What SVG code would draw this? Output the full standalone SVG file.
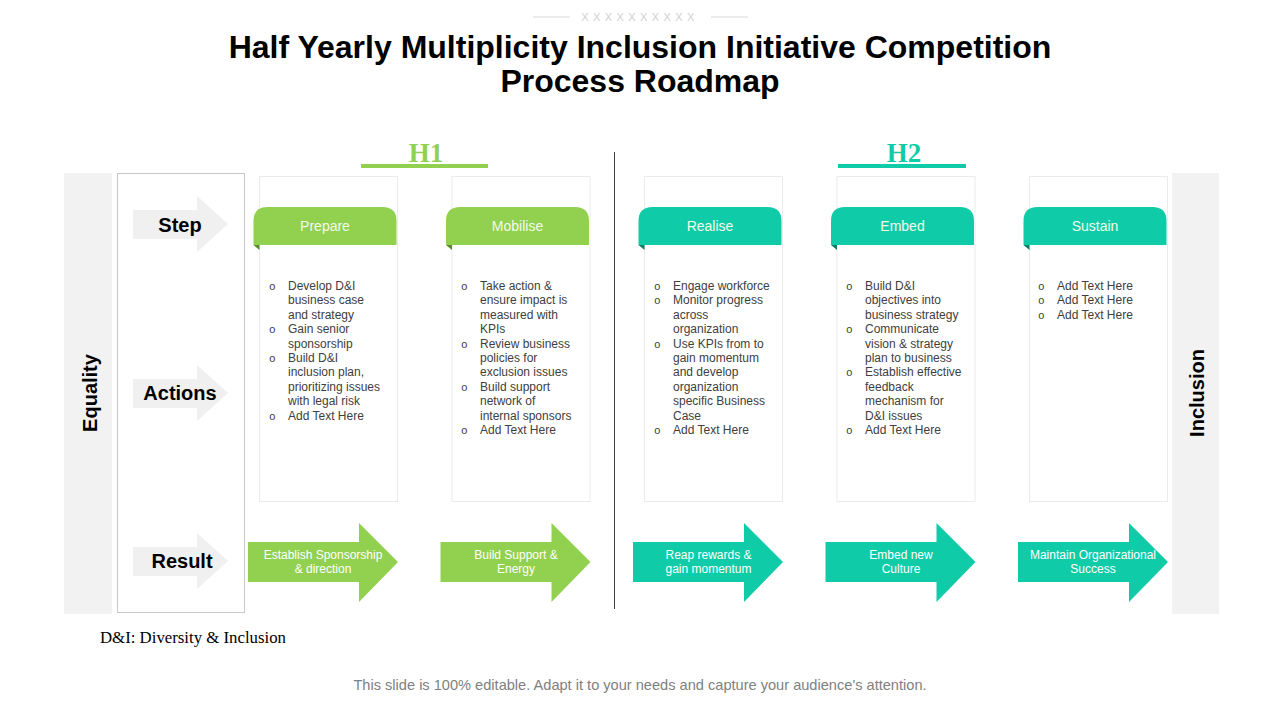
<svg xmlns="http://www.w3.org/2000/svg" width="1280" height="720" viewBox="0 0 1280 720">
<style>
.title{font-family:"Liberation Sans",Arial,sans-serif;font-weight:bold;font-size:32px;fill:#000;text-anchor:middle}
.half{font-family:"Liberation Serif","Times New Roman",serif;font-weight:bold;font-size:27px;text-anchor:middle}
.band{fill:#F2F2F2}
.side{font-family:"Liberation Sans",Arial,sans-serif;font-weight:bold;font-size:20px;fill:#000;text-anchor:middle}
.lbl{font-family:"Liberation Sans",Arial,sans-serif;font-weight:bold;font-size:20px;fill:#000;text-anchor:middle}
.garrow{fill:#F0F0F0}
.card{fill:#FFFFFF;stroke:#EBEBEB;stroke-width:1}
.tabg{fill:#92D050}
.tabt{fill:#10CBA8}
.foldg{fill:#5A8A2E}
.foldt{fill:#0A7E69}
.tabtxt{font-family:"Liberation Sans",Arial,sans-serif;font-size:14px;fill:#F2FBEA;text-anchor:middle}
.body{font-family:"Liberation Sans",Arial,sans-serif;font-size:12px;fill:#404040}
.bul{font-family:"Liberation Mono","Courier New",monospace;font-size:11px;fill:#404040}
.rtxt{font-family:"Liberation Sans",Arial,sans-serif;font-size:12px;fill:#FFFFFF;text-anchor:middle}
</style>

<g id="header">
  <line x1="533" y1="17" x2="570" y2="17" stroke="#D9D9D9" stroke-width="1"/>
  <line x1="711" y1="17" x2="748" y2="17" stroke="#D9D9D9" stroke-width="1"/>
  <text x="640" y="21" font-family="Liberation Sans,Arial,sans-serif" font-size="11" fill="#D0D0D0" text-anchor="middle" letter-spacing="4.4">XXXXXXXXXX</text>
  <text class="title" x="640" y="58">Half Yearly Multiplicity Inclusion Initiative Competition</text>
  <text class="title" x="640" y="92">Process Roadmap</text>
</g>

<g id="h1">
  <text class="half" x="426" y="162" fill="#92D050">H1</text>
  <rect x="361" y="164" width="127" height="4" fill="#92D050"/>
</g>
<g id="h2">
  <text class="half" x="904" y="162" fill="#10CBA8">H2</text>
  <rect x="838" y="164" width="128" height="4" fill="#10CBA8"/>
</g>

<g id="divider">
  <line x1="614.5" y1="152" x2="614.5" y2="609" stroke="#404040" stroke-width="1"/>
</g>

<g id="equality">
  <rect class="band" x="64" y="173" width="48" height="441"/>
  <text class="side" transform="translate(90,393) rotate(-90)" x="0" y="7">Equality</text>
</g>
<g id="inclusion">
  <rect class="band" x="1172" y="173" width="47" height="441"/>
  <text class="side" transform="translate(1197,393) rotate(-90)" x="0" y="7">Inclusion</text>
</g>

<g id="labels">
  <rect x="117.5" y="173.5" width="127" height="439" fill="#FFFFFF" stroke="#C8C8C8" stroke-width="1"/>
  <g id="step">
    <polygon class="garrow" points="133,210 197,210 197,196 228,224 197,252 197,239 133,239"/>
    <text class="lbl" x="180" y="232">Step</text>
  </g>
  <g id="actions">
    <polygon class="garrow" points="133,379 197,379 197,365 228,393 197,421 197,408 133,408"/>
    <text class="lbl" x="180" y="400">Actions</text>
  </g>
  <g id="result">
    <polygon class="garrow" points="133,547 197,547 197,533 228,561 197,589 197,576 133,576"/>
    <text class="lbl" x="182" y="568">Result</text>
  </g>
</g>

<g id="card-prepare">
  <rect class="card" x="259.5" y="176.5" width="138" height="325"/>
  <path class="tabg" d="M253.5,245 V221 Q253.5,207 267.5,207 H382.5 Q396.5,207 396.5,221 V245 Z"/>
  <polygon class="foldg" points="253.5,245 259.5,245 259.5,250"/>
  <text class="tabtxt" x="325" y="231">Prepare</text>
  <text class="bul"><tspan x="269" y="290">o</tspan><tspan x="269" y="333.2">o</tspan><tspan x="269" y="362">o</tspan><tspan x="269" y="419.6">o</tspan></text>
  <text class="body"><tspan x="288" y="290">Develop D&amp;I</tspan><tspan x="288" dy="14.4">business case</tspan><tspan x="288" dy="14.4">and strategy</tspan><tspan x="288" dy="14.4">Gain senior</tspan><tspan x="288" dy="14.4">sponsorship</tspan><tspan x="288" dy="14.4">Build D&amp;I</tspan><tspan x="288" dy="14.4">inclusion plan,</tspan><tspan x="288" dy="14.4">prioritizing issues</tspan><tspan x="288" dy="14.4">with legal risk</tspan><tspan x="288" dy="14.4">Add Text Here</tspan></text>
</g>

<g id="card-mobilise">
  <rect class="card" x="452" y="176.5" width="138" height="325"/>
  <path class="tabg" d="M446,245 V221 Q446,207 460,207 H575 Q589,207 589,221 V245 Z"/>
  <polygon class="foldg" points="446,245 452,245 452,250"/>
  <text class="tabtxt" x="517.5" y="231">Mobilise</text>
  <text class="bul"><tspan x="461" y="290">o</tspan><tspan x="461" y="347.6">o</tspan><tspan x="461" y="390.8">o</tspan><tspan x="461" y="434">o</tspan></text>
  <text class="body"><tspan x="480" y="290">Take action &amp;</tspan><tspan x="480" dy="14.4">ensure impact is</tspan><tspan x="480" dy="14.4">measured with</tspan><tspan x="480" dy="14.4">KPIs</tspan><tspan x="480" dy="14.4">Review business</tspan><tspan x="480" dy="14.4">policies for</tspan><tspan x="480" dy="14.4">exclusion issues</tspan><tspan x="480" dy="14.4">Build support</tspan><tspan x="480" dy="14.4">network of</tspan><tspan x="480" dy="14.4">internal sponsors</tspan><tspan x="480" dy="14.4">Add Text Here</tspan></text>
</g>

<g id="card-realise">
  <rect class="card" x="644.5" y="176.5" width="138" height="325"/>
  <path class="tabt" d="M638.5,245 V221 Q638.5,207 652.5,207 H767.5 Q781.5,207 781.5,221 V245 Z"/>
  <polygon class="foldt" points="638.5,245 644.5,245 644.5,250"/>
  <text class="tabtxt" x="710" y="231">Realise</text>
  <text class="bul"><tspan x="654" y="290">o</tspan><tspan x="654" y="304.4">o</tspan><tspan x="654" y="347.6">o</tspan><tspan x="654" y="434">o</tspan></text>
  <text class="body"><tspan x="673" y="290">Engage workforce</tspan><tspan x="673" dy="14.4">Monitor progress</tspan><tspan x="673" dy="14.4">across</tspan><tspan x="673" dy="14.4">organization</tspan><tspan x="673" dy="14.4">Use KPIs from to</tspan><tspan x="673" dy="14.4">gain momentum</tspan><tspan x="673" dy="14.4">and develop</tspan><tspan x="673" dy="14.4">organization</tspan><tspan x="673" dy="14.4">specific Business</tspan><tspan x="673" dy="14.4">Case</tspan><tspan x="673" dy="14.4">Add Text Here</tspan></text>
</g>

<g id="card-embed">
  <rect class="card" x="837" y="176.5" width="138" height="325"/>
  <path class="tabt" d="M831,245 V221 Q831,207 845,207 H960 Q974,207 974,221 V245 Z"/>
  <polygon class="foldt" points="831,245 837,245 837,250"/>
  <text class="tabtxt" x="902.5" y="231">Embed</text>
  <text class="bul"><tspan x="846" y="290">o</tspan><tspan x="846" y="333.2">o</tspan><tspan x="846" y="376.4">o</tspan><tspan x="846" y="434">o</tspan></text>
  <text class="body"><tspan x="865" y="290">Build D&amp;I</tspan><tspan x="865" dy="14.4">objectives into</tspan><tspan x="865" dy="14.4">business strategy</tspan><tspan x="865" dy="14.4">Communicate</tspan><tspan x="865" dy="14.4">vision &amp; strategy</tspan><tspan x="865" dy="14.4">plan to business</tspan><tspan x="865" dy="14.4">Establish effective</tspan><tspan x="865" dy="14.4">feedback</tspan><tspan x="865" dy="14.4">mechanism for</tspan><tspan x="865" dy="14.4">D&amp;I issues</tspan><tspan x="865" dy="14.4">Add Text Here</tspan></text>
</g>

<g id="card-sustain">
  <rect class="card" x="1029.5" y="176.5" width="138" height="325"/>
  <path class="tabt" d="M1023.5,245 V221 Q1023.5,207 1037.5,207 H1152.5 Q1166.5,207 1166.5,221 V245 Z"/>
  <polygon class="foldt" points="1023.5,245 1029.5,245 1029.5,250"/>
  <text class="tabtxt" x="1095" y="231">Sustain</text>
  <text class="bul"><tspan x="1038" y="290">o</tspan><tspan x="1038" y="304.4">o</tspan><tspan x="1038" y="318.8">o</tspan></text>
  <text class="body"><tspan x="1057" y="290">Add Text Here</tspan><tspan x="1057" dy="14.4">Add Text Here</tspan><tspan x="1057" dy="14.4">Add Text Here</tspan></text>
</g>

<g id="result-1">
  <polygon class="tabg" points="248,542 359,542 359,523 398,562 359,602 359,582 248,582"/>
  <text class="rtxt"><tspan x="323" y="559">Establish Sponsorship</tspan><tspan x="323" y="573">&amp; direction</tspan></text>
</g>
<g id="result-2">
  <polygon class="tabg" points="440.5,542 551.5,542 551.5,523 590.5,562 551.5,602 551.5,582 440.5,582"/>
  <text class="rtxt"><tspan x="516" y="559">Build Support &amp;</tspan><tspan x="516" y="573">Energy</tspan></text>
</g>
<g id="result-3">
  <polygon class="tabt" points="633,542 744,542 744,523 783,562 744,602 744,582 633,582"/>
  <text class="rtxt"><tspan x="708.5" y="559">Reap rewards &amp;</tspan><tspan x="708.5" y="573">gain momentum</tspan></text>
</g>
<g id="result-4">
  <polygon class="tabt" points="825.5,542 936.5,542 936.5,523 975.5,562 936.5,602 936.5,582 825.5,582"/>
  <text class="rtxt"><tspan x="901" y="559">Embed new</tspan><tspan x="901" y="573">Culture</tspan></text>
</g>
<g id="result-5">
  <polygon class="tabt" points="1018,542 1129,542 1129,523 1168,562 1129,602 1129,582 1018,582"/>
  <text class="rtxt"><tspan x="1093" y="559">Maintain Organizational</tspan><tspan x="1093" y="573">Success</tspan></text>
</g>

<g id="connectors"></g>

<g id="footer">
  <text x="100" y="643" font-family="Liberation Serif,Times New Roman,serif" font-size="16.8" fill="#000">D&amp;I: Diversity &amp; Inclusion</text>
  <text x="640" y="690" font-family="Liberation Sans,Arial,sans-serif" font-size="14.6" fill="#7F7F7F" text-anchor="middle">This slide is 100% editable. Adapt it to your needs and capture your audience's attention.</text>
</g>
</svg>
